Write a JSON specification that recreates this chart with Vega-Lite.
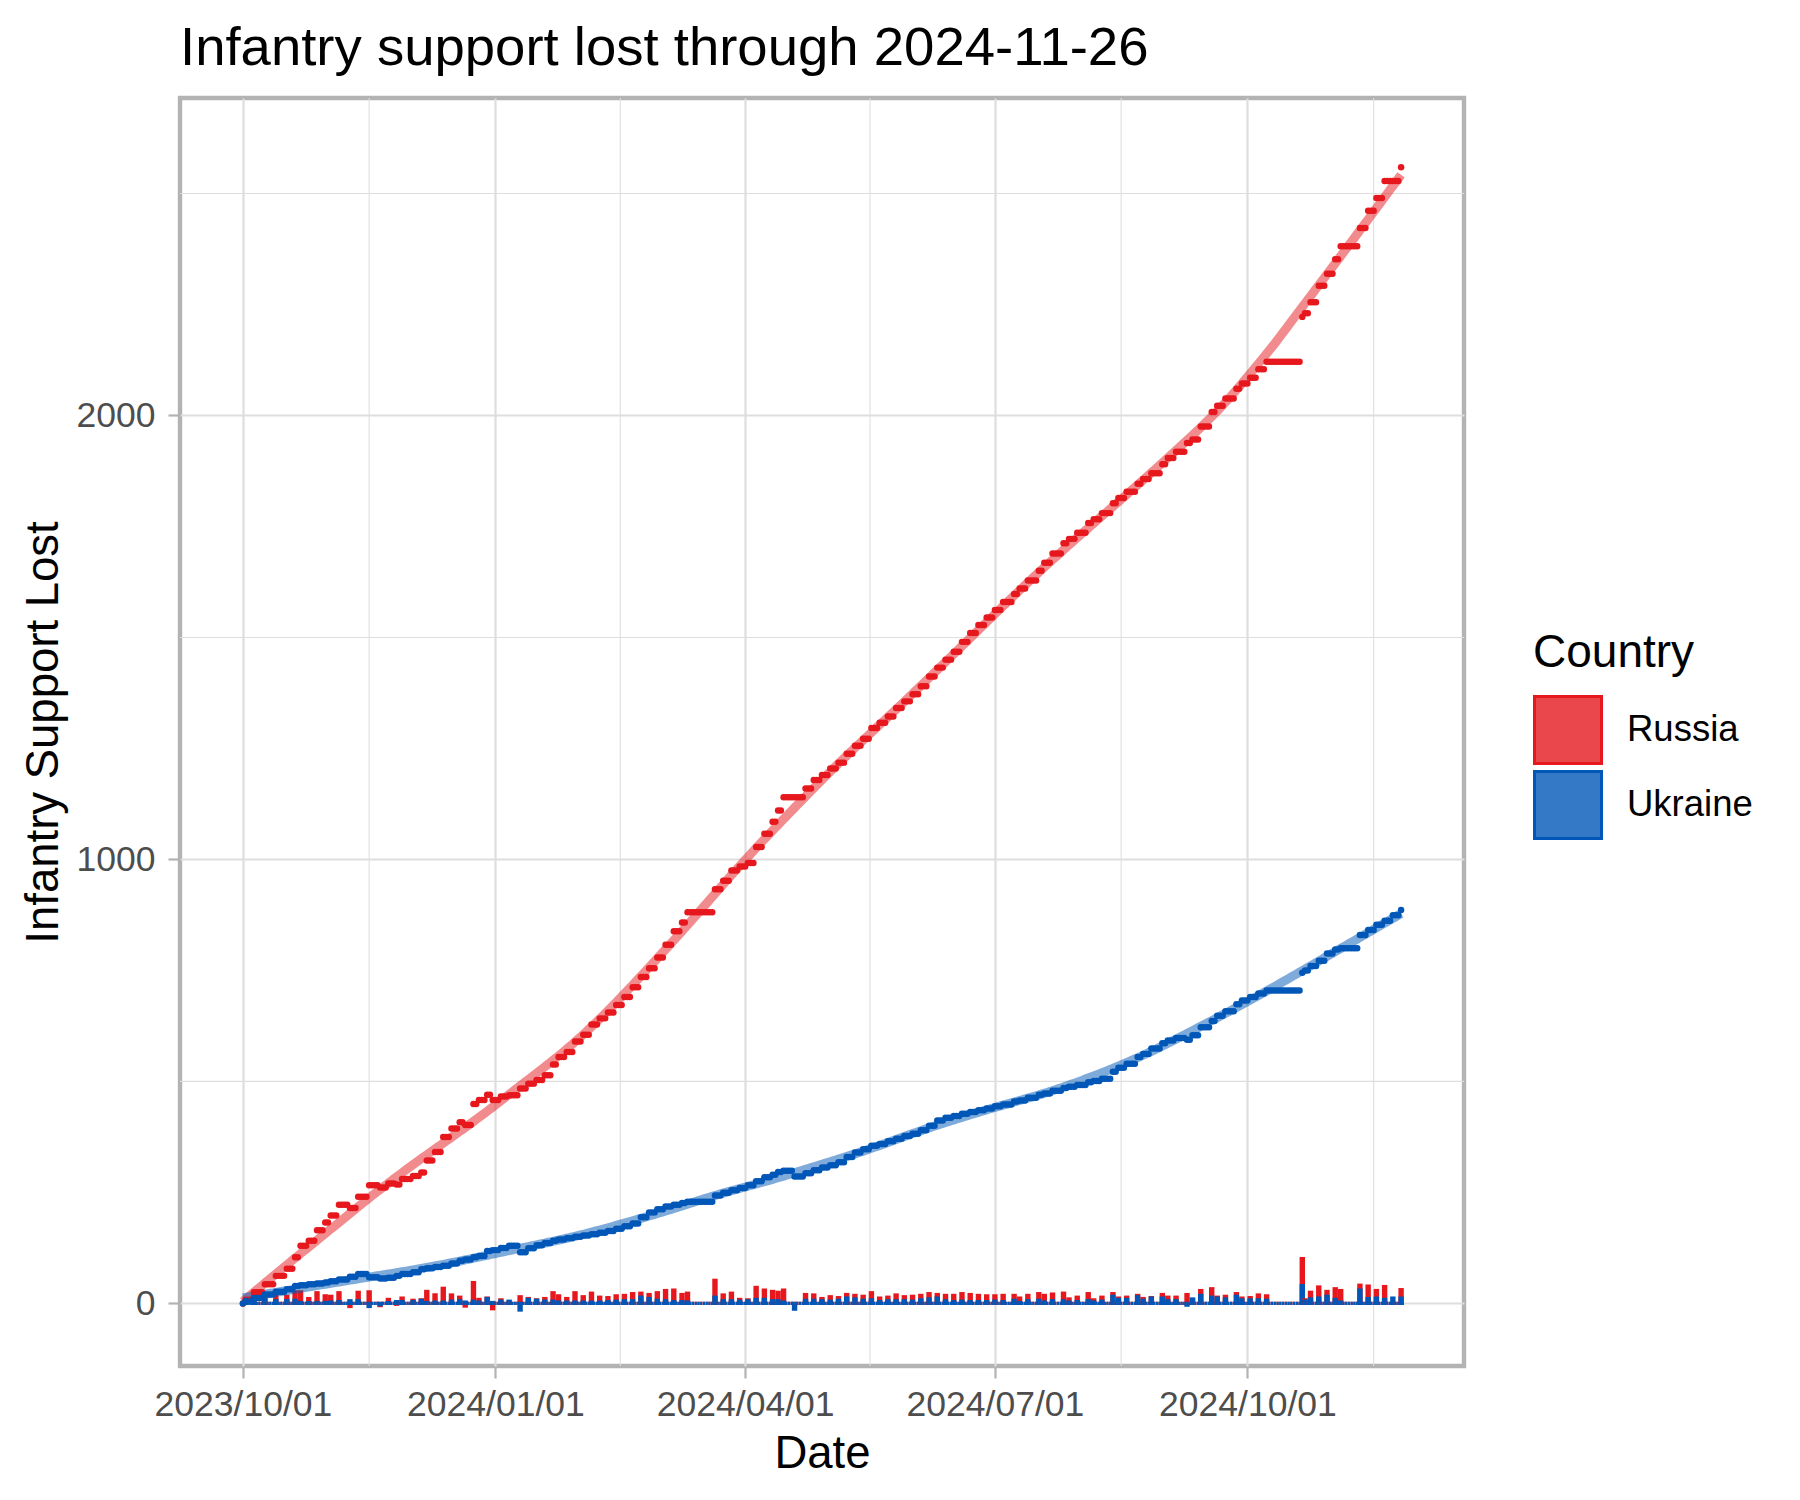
{
  "$schema": "https://vega.github.io/schema/vega-lite/v6.json",
  "width": 1284,
  "height": 1268,
  "autosize": {"type": "none"},
  "padding": {"left": 180, "top": 98, "right": 336, "bottom": 134},
  "background": "white",
  "title": {"text": "Infantry support lost through 2024-11-26", "anchor": "start", "frame": "group", "baseline": "alphabetic", "offset": -22.5},
  "data": {
    "values": "date,Russia,Ukraine,dR,dU\n2023-10-01,0,0,0,0\n2023-10-02,8,6,8,6\n2023-10-03,8,6,0,0\n2023-10-04,8,6,0,0\n2023-10-05,25,12,17,6\n2023-10-06,25,12,0,0\n2023-10-07,25,12,0,0\n2023-10-08,25,12,0,0\n2023-10-09,43,20,18,8\n2023-10-10,43,20,0,0\n2023-10-11,43,20,0,0\n2023-10-12,43,20,0,0\n2023-10-13,62,26,19,6\n2023-10-14,62,26,0,0\n2023-10-15,62,26,0,0\n2023-10-16,62,26,0,0\n2023-10-17,78,32,16,6\n2023-10-18,78,32,0,0\n2023-10-19,78,32,0,0\n2023-10-20,104,39,26,7\n2023-10-21,104,39,0,0\n2023-10-22,130,41,26,2\n2023-10-23,130,41,0,0\n2023-10-24,130,41,0,0\n2023-10-25,141,43,11,2\n2023-10-26,141,43,0,0\n2023-10-27,141,43,0,0\n2023-10-28,165,45,24,2\n2023-10-29,165,45,0,0\n2023-10-30,165,45,0,0\n2023-10-31,182,47,17,2\n2023-11-01,182,47,0,0\n2023-11-02,198,50,16,3\n2023-11-03,198,50,0,0\n2023-11-04,198,50,0,0\n2023-11-05,222,54,24,4\n2023-11-06,222,54,0,0\n2023-11-07,222,54,0,0\n2023-11-08,222,54,0,0\n2023-11-09,215,60,-7,6\n2023-11-10,215,60,0,0\n2023-11-11,215,60,0,0\n2023-11-12,240,66,25,6\n2023-11-13,240,66,0,0\n2023-11-14,240,66,0,0\n2023-11-15,240,66,0,0\n2023-11-16,266,59,26,-7\n2023-11-17,266,59,0,0\n2023-11-18,266,59,0,0\n2023-11-19,266,59,0,0\n2023-11-20,261,56,-5,-3\n2023-11-21,261,56,0,0\n2023-11-22,261,56,0,0\n2023-11-23,270,58,9,2\n2023-11-24,270,58,0,0\n2023-11-25,270,58,0,0\n2023-11-26,268,62,-2,4\n2023-11-27,268,62,0,0\n2023-11-28,280,66,12,4\n2023-11-29,280,66,0,0\n2023-11-30,280,66,0,0\n2023-12-01,280,66,0,0\n2023-12-02,287,70,7,4\n2023-12-03,287,70,0,0\n2023-12-04,287,70,0,0\n2023-12-05,295,77,8,7\n2023-12-06,295,77,0,0\n2023-12-07,322,79,27,2\n2023-12-08,322,79,0,0\n2023-12-09,322,79,0,0\n2023-12-10,341,82,19,3\n2023-12-11,341,82,0,0\n2023-12-12,341,82,0,0\n2023-12-13,375,85,34,3\n2023-12-14,375,85,0,0\n2023-12-15,375,85,0,0\n2023-12-16,394,90,19,5\n2023-12-17,394,90,0,0\n2023-12-18,394,90,0,0\n2023-12-19,408,96,14,6\n2023-12-20,408,96,0,0\n2023-12-21,402,99,-6,3\n2023-12-22,402,99,0,0\n2023-12-23,402,99,0,0\n2023-12-24,449,104,47,5\n2023-12-25,449,104,0,0\n2023-12-26,458,107,9,3\n2023-12-27,458,107,0,0\n2023-12-28,458,107,0,0\n2023-12-29,470,118,12,11\n2023-12-30,470,118,0,0\n2023-12-31,458,120,-12,2\n2024-01-01,458,120,0,0\n2024-01-02,458,120,0,0\n2024-01-03,466,125,8,5\n2024-01-04,466,125,0,0\n2024-01-05,466,125,0,0\n2024-01-06,469,130,3,5\n2024-01-07,469,130,0,0\n2024-01-08,469,130,0,0\n2024-01-09,469,130,0,0\n2024-01-10,484,115,15,-15\n2024-01-11,484,115,0,0\n2024-01-12,484,115,0,0\n2024-01-13,495,124,11,9\n2024-01-14,495,124,0,0\n2024-01-15,495,124,0,0\n2024-01-16,503,131,8,7\n2024-01-17,503,131,0,0\n2024-01-18,503,131,0,0\n2024-01-19,514,136,11,5\n2024-01-20,514,136,0,0\n2024-01-21,514,136,0,0\n2024-01-22,538,141,24,5\n2024-01-23,538,141,0,0\n2024-01-24,555,144,17,3\n2024-01-25,555,144,0,0\n2024-01-26,555,144,0,0\n2024-01-27,566,147,11,3\n2024-01-28,566,147,0,0\n2024-01-29,566,147,0,0\n2024-01-30,590,150,24,3\n2024-01-31,590,150,0,0\n2024-02-01,590,150,0,0\n2024-02-02,605,153,15,3\n2024-02-03,605,153,0,0\n2024-02-04,605,153,0,0\n2024-02-05,628,156,23,3\n2024-02-06,628,156,0,0\n2024-02-07,628,156,0,0\n2024-02-08,642,159,14,3\n2024-02-09,642,159,0,0\n2024-02-10,642,159,0,0\n2024-02-11,655,163,13,4\n2024-02-12,655,163,0,0\n2024-02-13,655,163,0,0\n2024-02-14,672,168,17,5\n2024-02-15,672,168,0,0\n2024-02-16,672,168,0,0\n2024-02-17,690,174,18,6\n2024-02-18,690,174,0,0\n2024-02-19,690,174,0,0\n2024-02-20,712,180,22,6\n2024-02-21,712,180,0,0\n2024-02-22,712,180,0,0\n2024-02-23,735,194,23,14\n2024-02-24,735,194,0,0\n2024-02-25,735,194,0,0\n2024-02-26,755,205,20,11\n2024-02-27,755,205,0,0\n2024-02-28,755,205,0,0\n2024-02-29,779,212,24,7\n2024-03-01,779,212,0,0\n2024-03-02,779,212,0,0\n2024-03-03,808,218,29,6\n2024-03-04,808,218,0,0\n2024-03-05,808,218,0,0\n2024-03-06,838,222,30,4\n2024-03-07,838,222,0,0\n2024-03-08,838,222,0,0\n2024-03-09,858,226,20,4\n2024-03-10,858,226,0,0\n2024-03-11,881,229,23,3\n2024-03-12,881,229,0,0\n2024-03-13,881,229,0,0\n2024-03-14,881,229,0,0\n2024-03-15,881,229,0,0\n2024-03-16,881,229,0,0\n2024-03-17,881,229,0,0\n2024-03-18,881,229,0,0\n2024-03-19,881,229,0,0\n2024-03-20,881,229,0,0\n2024-03-21,933,243,52,14\n2024-03-22,933,243,0,0\n2024-03-23,933,243,0,0\n2024-03-24,952,249,19,6\n2024-03-25,952,249,0,0\n2024-03-26,952,249,0,0\n2024-03-27,975,255,23,6\n2024-03-28,975,255,0,0\n2024-03-29,975,255,0,0\n2024-03-30,984,260,9,5\n2024-03-31,984,260,0,0\n2024-04-01,984,260,0,0\n2024-04-02,992,266,8,6\n2024-04-03,992,266,0,0\n2024-04-04,992,266,0,0\n2024-04-05,1028,275,36,9\n2024-04-06,1028,275,0,0\n2024-04-07,1028,275,0,0\n2024-04-08,1058,284,30,9\n2024-04-09,1058,284,0,0\n2024-04-10,1058,284,0,0\n2024-04-11,1085,290,27,6\n2024-04-12,1085,290,0,0\n2024-04-13,1110,296,25,6\n2024-04-14,1110,296,0,0\n2024-04-15,1140,299,30,3\n2024-04-16,1140,299,0,0\n2024-04-17,1140,299,0,0\n2024-04-18,1140,299,0,0\n2024-04-19,1140,286,0,-13\n2024-04-20,1140,286,0,0\n2024-04-21,1140,286,0,0\n2024-04-22,1140,286,0,0\n2024-04-23,1160,293,20,7\n2024-04-24,1160,293,0,0\n2024-04-25,1160,293,0,0\n2024-04-26,1179,300,19,7\n2024-04-27,1179,300,0,0\n2024-04-28,1179,300,0,0\n2024-04-29,1190,306,11,6\n2024-04-30,1190,306,0,0\n2024-05-01,1190,306,0,0\n2024-05-02,1205,311,15,5\n2024-05-03,1205,311,0,0\n2024-05-04,1205,311,0,0\n2024-05-05,1218,318,13,7\n2024-05-06,1218,318,0,0\n2024-05-07,1218,318,0,0\n2024-05-08,1238,330,20,12\n2024-05-09,1238,330,0,0\n2024-05-10,1238,330,0,0\n2024-05-11,1256,340,18,10\n2024-05-12,1256,340,0,0\n2024-05-13,1256,340,0,0\n2024-05-14,1272,347,16,7\n2024-05-15,1272,347,0,0\n2024-05-16,1272,347,0,0\n2024-05-17,1296,355,24,8\n2024-05-18,1296,355,0,0\n2024-05-19,1296,355,0,0\n2024-05-20,1308,359,12,4\n2024-05-21,1308,359,0,0\n2024-05-22,1308,359,0,0\n2024-05-23,1322,365,14,6\n2024-05-24,1322,365,0,0\n2024-05-25,1322,365,0,0\n2024-05-26,1341,371,19,6\n2024-05-27,1341,371,0,0\n2024-05-28,1341,371,0,0\n2024-05-29,1356,377,15,6\n2024-05-30,1356,377,0,0\n2024-05-31,1356,377,0,0\n2024-06-01,1372,382,16,5\n2024-06-02,1372,382,0,0\n2024-06-03,1372,382,0,0\n2024-06-04,1390,390,18,8\n2024-06-05,1390,390,0,0\n2024-06-06,1390,390,0,0\n2024-06-07,1412,400,22,10\n2024-06-08,1412,400,0,0\n2024-06-09,1412,400,0,0\n2024-06-10,1432,412,20,12\n2024-06-11,1432,412,0,0\n2024-06-12,1432,412,0,0\n2024-06-13,1450,418,18,6\n2024-06-14,1450,418,0,0\n2024-06-15,1450,418,0,0\n2024-06-16,1468,422,18,4\n2024-06-17,1468,422,0,0\n2024-06-18,1468,422,0,0\n2024-06-19,1490,427,22,5\n2024-06-20,1490,427,0,0\n2024-06-21,1490,427,0,0\n2024-06-22,1510,431,20,4\n2024-06-23,1510,431,0,0\n2024-06-24,1510,431,0,0\n2024-06-25,1528,435,18,4\n2024-06-26,1528,435,0,0\n2024-06-27,1528,435,0,0\n2024-06-28,1545,439,17,4\n2024-06-29,1545,439,0,0\n2024-06-30,1545,439,0,0\n2024-07-01,1562,444,17,5\n2024-07-02,1562,444,0,0\n2024-07-03,1562,444,0,0\n2024-07-04,1580,448,18,4\n2024-07-05,1580,448,0,0\n2024-07-06,1580,448,0,0\n2024-07-07,1580,448,0,0\n2024-07-08,1598,455,18,7\n2024-07-09,1598,455,0,0\n2024-07-10,1610,457,12,2\n2024-07-11,1610,457,0,0\n2024-07-12,1610,457,0,0\n2024-07-13,1628,463,18,6\n2024-07-14,1628,463,0,0\n2024-07-15,1628,463,0,0\n2024-07-16,1628,463,0,0\n2024-07-17,1650,470,22,7\n2024-07-18,1650,470,0,0\n2024-07-19,1668,473,18,3\n2024-07-20,1668,473,0,0\n2024-07-21,1668,473,0,0\n2024-07-22,1689,479,21,6\n2024-07-23,1689,479,0,0\n2024-07-24,1689,479,0,0\n2024-07-25,1689,479,0,0\n2024-07-26,1712,485,23,6\n2024-07-27,1712,485,0,0\n2024-07-28,1722,488,10,3\n2024-07-29,1722,488,0,0\n2024-07-30,1722,488,0,0\n2024-07-31,1736,492,14,4\n2024-08-01,1736,492,0,0\n2024-08-02,1736,492,0,0\n2024-08-03,1736,492,0,0\n2024-08-04,1758,498,22,6\n2024-08-05,1758,498,0,0\n2024-08-06,1766,501,8,3\n2024-08-07,1766,501,0,0\n2024-08-08,1766,501,0,0\n2024-08-09,1780,506,14,5\n2024-08-10,1780,506,0,0\n2024-08-11,1780,506,0,0\n2024-08-12,1780,506,0,0\n2024-08-13,1802,522,22,16\n2024-08-14,1802,522,0,0\n2024-08-15,1814,531,12,9\n2024-08-16,1814,531,0,0\n2024-08-17,1814,531,0,0\n2024-08-18,1828,540,14,9\n2024-08-19,1828,540,0,0\n2024-08-20,1828,540,0,0\n2024-08-21,1828,540,0,0\n2024-08-22,1846,555,18,15\n2024-08-23,1846,555,0,0\n2024-08-24,1857,562,11,7\n2024-08-25,1857,562,0,0\n2024-08-26,1857,562,0,0\n2024-08-27,1870,574,13,12\n2024-08-28,1870,574,0,0\n2024-08-29,1870,574,0,0\n2024-08-30,1870,574,0,0\n2024-08-31,1890,586,20,12\n2024-09-01,1890,586,0,0\n2024-09-02,1904,592,14,6\n2024-09-03,1904,592,0,0\n2024-09-04,1904,592,0,0\n2024-09-05,1918,598,14,6\n2024-09-06,1918,598,0,0\n2024-09-07,1918,598,0,0\n2024-09-08,1918,598,0,0\n2024-09-09,1938,594,20,-4\n2024-09-10,1938,594,0,0\n2024-09-11,1946,604,8,10\n2024-09-12,1946,604,0,0\n2024-09-13,1946,604,0,0\n2024-09-14,1975,622,29,18\n2024-09-15,1975,622,0,0\n2024-09-16,1975,622,0,0\n2024-09-17,1975,622,0,0\n2024-09-18,2008,636,33,14\n2024-09-19,2008,636,0,0\n2024-09-20,2022,648,14,12\n2024-09-21,2022,648,0,0\n2024-09-22,2022,648,0,0\n2024-09-23,2038,658,16,10\n2024-09-24,2038,658,0,0\n2024-09-25,2038,658,0,0\n2024-09-26,2038,658,0,0\n2024-09-27,2060,674,22,16\n2024-09-28,2060,674,0,0\n2024-09-29,2072,682,12,8\n2024-09-30,2072,682,0,0\n2024-10-01,2072,682,0,0\n2024-10-02,2085,690,13,8\n2024-10-03,2085,690,0,0\n2024-10-04,2085,690,0,0\n2024-10-05,2104,698,19,8\n2024-10-06,2104,698,0,0\n2024-10-07,2104,698,0,0\n2024-10-08,2121,705,17,7\n2024-10-09,2121,705,0,0\n2024-10-10,2121,705,0,0\n2024-10-11,2121,705,0,0\n2024-10-12,2121,705,0,0\n2024-10-13,2121,705,0,0\n2024-10-14,2121,705,0,0\n2024-10-15,2121,705,0,0\n2024-10-16,2121,705,0,0\n2024-10-17,2121,705,0,0\n2024-10-18,2121,705,0,0\n2024-10-19,2121,705,0,0\n2024-10-20,2121,705,0,0\n2024-10-21,2222,745,101,40\n2024-10-22,2230,750,8,5\n2024-10-23,2230,750,0,0\n2024-10-24,2255,760,25,10\n2024-10-25,2255,760,0,0\n2024-10-26,2255,760,0,0\n2024-10-27,2292,772,37,12\n2024-10-28,2292,772,0,0\n2024-10-29,2292,772,0,0\n2024-10-30,2319,788,27,16\n2024-10-31,2319,788,0,0\n2024-11-01,2319,788,0,0\n2024-11-02,2352,797,33,9\n2024-11-03,2352,797,0,0\n2024-11-04,2381,800,29,3\n2024-11-05,2381,800,0,0\n2024-11-06,2381,800,0,0\n2024-11-07,2381,800,0,0\n2024-11-08,2381,800,0,0\n2024-11-09,2381,800,0,0\n2024-11-10,2381,800,0,0\n2024-11-11,2422,830,41,30\n2024-11-12,2422,830,0,0\n2024-11-13,2422,830,0,0\n2024-11-14,2461,841,39,11\n2024-11-15,2461,841,0,0\n2024-11-16,2461,841,0,0\n2024-11-17,2490,853,29,12\n2024-11-18,2490,853,0,0\n2024-11-19,2490,853,0,0\n2024-11-20,2528,862,38,9\n2024-11-21,2528,862,0,0\n2024-11-22,2528,862,0,0\n2024-11-23,2528,874,0,12\n2024-11-24,2528,874,0,0\n2024-11-25,2528,874,0,0\n2024-11-26,2559,886,31,12",
    "format": {"type": "csv", "parse": {"date": "date", "Russia": "number", "Ukraine": "number", "dR": "number", "dU": "number"}}
  },
  "layer": [
    {
      "data": {"values": [{"t": "2023-11-16"}, {"t": "2024-02-15T12:00:00Z"}, {"t": "2024-05-16T12:00:00Z"}, {"t": "2024-08-16"}, {"t": "2024-11-16"}]},
      "mark": {"type": "rule", "color": "#DEDEDE", "strokeWidth": 1.1},
      "encoding": {
        "x": {"field": "t", "type": "temporal",
          "scale": {"type": "utc", "domain": [{"year": 2023, "month": 9, "date": 9, "hours": 21, "minutes": 36, "utc": true}, {"year": 2024, "month": 12, "date": 17, "hours": 2, "minutes": 24, "utc": true}]},
          "axis": {
            "title": "Date",
            "values": [
              {"year": 2023, "month": 10, "date": 1, "utc": true},
              {"year": 2024, "month": 1, "date": 1, "utc": true},
              {"year": 2024, "month": 4, "date": 1, "utc": true},
              {"year": 2024, "month": 7, "date": 1, "utc": true},
              {"year": 2024, "month": 10, "date": 1, "utc": true}
            ],
            "format": "%Y/%m/%d",
            "formatType": "utc",
            "labelExpr": "utcFormat(datum.value, '%Y/%m/%d')",
            "labelPadding": 9,
            "titleX": 642,
            "titleY": 101,
            "titleBaseline": "alphabetic",
            "titleAlign": "center"
          }
        }
      }
    },
    {
      "data": {"values": [{"v": 500}, {"v": 1500}, {"v": 2500}]},
      "mark": {"type": "rule", "color": "#DEDEDE", "strokeWidth": 1.1},
      "encoding": {
        "y": {"field": "v", "type": "quantitative",
          "scale": {"domain": [-141, 2715], "nice": false, "zero": false},
          "axis": {
            "title": "Infantry Support Lost",
            "values": [0, 1000, 2000],
            "format": "d",
            "labelPadding": 13,
            "titleX": -122.5,
            "titleY": 634,
            "titleAngle": 270,
            "titleBaseline": "alphabetic",
            "titleAlign": "center"
          }
        }
      }
    },
    {
      "transform": [{"fold": ["dR", "dU"], "as": ["Country", "n"]}],
      "mark": {"type": "bar", "width": 2.2, "strokeWidth": 3.2},
      "encoding": {
        "x": {"field": "date", "type": "temporal",
          "scale": {"type": "utc", "domain": [{"year": 2023, "month": 9, "date": 9, "hours": 21, "minutes": 36, "utc": true}, {"year": 2024, "month": 12, "date": 17, "hours": 2, "minutes": 24, "utc": true}]}},
        "y": {"field": "n", "type": "quantitative", "stack": null,
          "scale": {"domain": [-141, 2715], "nice": false, "zero": false}},
        "fill": {"field": "Country", "type": "nominal",
          "scale": {"domain": ["dR", "dU"], "range": ["#E9474B", "#3379C5"]},
          "legend": {"title": "Country", "labelExpr": "datum.label == 'dR' ? 'Russia' : 'Ukraine'"}},
        "stroke": {"field": "Country", "type": "nominal",
          "scale": {"domain": ["dR", "dU"], "range": ["#E6181D", "#0057B7"]},
          "legend": {"title": "Country", "labelExpr": "datum.label == 'dR' ? 'Russia' : 'Ukraine'"}}
      }
    },
    {
      "transform": [{"fold": ["Russia", "Ukraine"], "as": ["Country", "n"]}],
      "layer": [
        {
          "transform": [{"loess": "n", "on": "date", "groupby": ["Country"], "bandwidth": 0.22}],
          "mark": {"type": "line", "strokeWidth": 9, "opacity": 0.5},
          "encoding": {
            "x": {"field": "date", "type": "temporal",
              "scale": {"type": "utc", "domain": [{"year": 2023, "month": 9, "date": 9, "hours": 21, "minutes": 36, "utc": true}, {"year": 2024, "month": 12, "date": 17, "hours": 2, "minutes": 24, "utc": true}]}},
            "y": {"field": "n", "type": "quantitative", "scale": {"domain": [-141, 2715], "nice": false, "zero": false}},
            "color": {"field": "Country", "type": "nominal", "legend": null,
              "scale": {"domain": ["Russia", "Ukraine"], "range": ["#E6181D", "#0057B7"]}}
          }
        },
        {
          "mark": {"type": "circle", "size": 42, "opacity": 1},
          "encoding": {
            "x": {"field": "date", "type": "temporal",
              "scale": {"type": "utc", "domain": [{"year": 2023, "month": 9, "date": 9, "hours": 21, "minutes": 36, "utc": true}, {"year": 2024, "month": 12, "date": 17, "hours": 2, "minutes": 24, "utc": true}]}},
            "y": {"field": "n", "type": "quantitative", "scale": {"domain": [-141, 2715], "nice": false, "zero": false}},
            "color": {"field": "Country", "type": "nominal", "legend": null,
              "scale": {"domain": ["Russia", "Ukraine"], "range": ["#E6181D", "#0057B7"]}}
          }
        }
      ]
    }
  ],
  "config": {
    "font": "Liberation Sans",
    "view": {"stroke": "#B3B3B3", "strokeWidth": 4.4},
    "title": {"font": "Liberation Sans", "fontSize": 54.5, "fontWeight": "normal", "color": "#000000"},
    "axis": {
      "labelFont": "Liberation Sans",
      "titleFont": "Liberation Sans",
      "labelFontSize": 35.5,
      "labelColor": "#4D4D4D",
      "titleFontSize": 45.5,
      "titleFontWeight": "normal",
      "titleColor": "#000000",
      "tickColor": "#B3B3B3",
      "tickWidth": 2.2,
      "tickSize": 12,
      "domain": false,
      "grid": true,
      "gridColor": "#DEDEDE",
      "gridWidth": 2.2,
      "labelFlush": false,
      "labelOverlap": false
    },
    "legend": {
      "orient": "none",
      "legendX": 1353,
      "legendY": 533,
      "padding": 0,
      "titleFont": "Liberation Sans",
      "labelFont": "Liberation Sans",
      "titleFontSize": 46,
      "titleFontWeight": "normal",
      "titleColor": "#000000",
      "labelFontSize": 36.5,
      "labelColor": "#000000",
      "symbolType": "square",
      "symbolSize": 4489,
      "symbolStrokeWidth": 3,
      "symbolOpacity": 1,
      "titlePadding": 18,
      "labelOffset": 24,
      "rowPadding": -10
    }
  }
}
